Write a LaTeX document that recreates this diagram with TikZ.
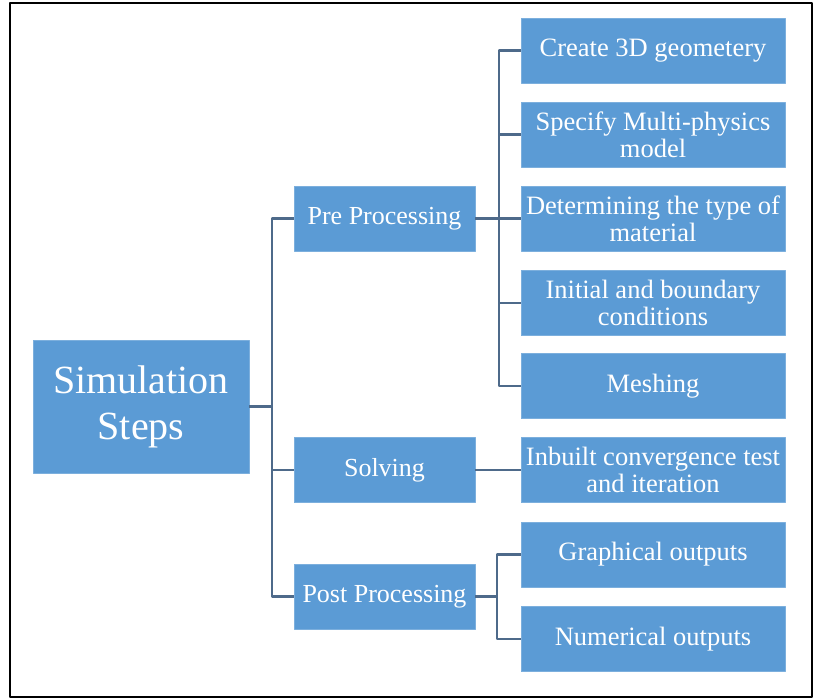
\documentclass[tikz,border=0pt]{standalone}
\usepackage{fontspec}
\setmainfont{Liberation Serif}
\definecolor{boxblue}{RGB}{91,155,213}
\definecolor{linkgray}{RGB}{78,106,138}
\begin{document}
\begin{tikzpicture}[x=1pt, y=-1pt, line join=round,
		box/.style={fill=boxblue, draw=boxblue!80!white, line width=0.6pt, text=white, align=center, inner sep=2pt},
		root/.style={box, minimum width=216pt, minimum height=133pt, font=\fontsize{40}{46}\selectfont},
		mid/.style={box, minimum width=181pt, minimum height=65pt, font=\fontsize{26}{28}\selectfont},
		leaf/.style={box, minimum width=264pt, minimum height=65pt, font=\fontsize{26.5}{27}\selectfont},
		link/.style={draw=linkgray, line width=2.2pt}]
	\useasboundingbox (0,0) rectangle (814,699);
	\draw[line width=2pt] (10,3) rectangle (812,697);
	\node[root] (sim) at (141,406.5) {Simulation\\Steps};
	\node[mid] (pre) at (384.5,218.5) {Pre Processing};
	\node[mid] (solve) at (384.5,470) {Solving};
	\node[mid] (post) at (384.5,596.5) {Post Processing};
	\foreach \n/\y/\t in {geo/50.5/{Create 3D geometery}, phys/134.5/{Specify Multi-physics\\model},
		mat/218.5/{Determining the type of\\material}, bc/303/{Initial and boundary\\conditions},
		mesh/386/{Meshing}, conv/470/{Inbuilt convergence test\\and iteration},
		graph/554.5/{Graphical outputs}, num/639/{Numerical outputs}}
		\node[leaf] (\n) at (653,\y) {\t};
	\draw[link] (sim.east) -- ++(23,0);
	\draw[link] (pre.west) -- ++(-22,0) |- (post.west);
	\draw[link] (solve.west) -- ++(-22,0);
	\draw[link] (pre.east) -- (mat.west);
	\draw[link] (geo.west) -- ++(-22,0) |- (mesh.west);
	\draw[link] (phys.west) -- ++(-22,0) (bc.west) -- ++(-22,0);
	\draw[link] (solve.east) -- (conv.west);
	\draw[link] (graph.west) -- ++(-24,0) |- (num.west);
	\draw[link] (post.east) -- ++(22,0);
\end{tikzpicture}
\end{document}
